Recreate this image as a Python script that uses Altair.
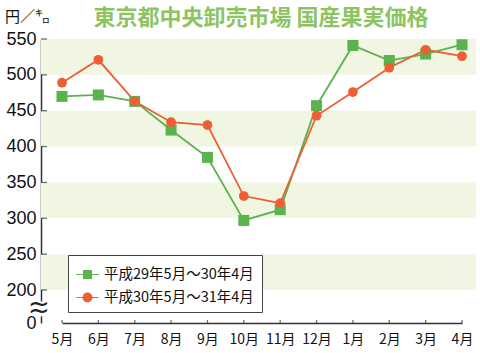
import altair as alt
import pandas as pd

months = ["5月", "6月", "7月", "8月", "9月", "10月", "11月", "12月", "1月", "2月", "3月", "4月"]
series_names = ["平成29年5月～30年4月", "平成30年5月～31年4月"]
h29 = [470, 472, 463, 423, 385, 297, 312, 457, 541, 520, 529, 542]
h30 = [489, 521, 463, 434, 430, 331, 321, 443, 476, 510, 535, 526]
band_lo = [500, 400, 300, 200]
band_hi = [550, 450, 350, 250]
y_ticks = [0, 200, 250, 300, 350, 400, 450, 500, 550]
colors = ["#5ab34c", "#ef5d35"]
title_text = "東京都中央卸売市場 国産果実価格"
unit_text = "円／㌔"

W, H = 435, 284
JP = "Noto Sans CJK JP"

rows = []
for s, vals in zip(series_names, [h29, h30]):
    for m, v in zip(months, vals):
        rows.append({"month": m, "value": v, "series": s})
df = pd.DataFrame(rows)
bands = pd.DataFrame({"lo": band_lo, "hi": band_hi})
ticks_df = pd.DataFrame({"v": y_ticks[1:]})
mdf = pd.DataFrame({"month": months})

yscale = alt.Scale(domain=[0, 200, 550], range=[H, H - 33, 0], zero=False, nice=False)
xscale = alt.Scale(type="point", domain=months, range=[21, 421], padding=0)
cscale = alt.Scale(domain=series_names, range=colors)

sq_path = "M-1,-0.05H1V0.05H-1Z M-0.4,-0.4H0.4V0.4H-0.4Z"
ci_path = "M-1,-0.05H1V0.05H-1Z M0.44,0A0.44,0.44 0 1,1 -0.44,0A0.44,0.44 0 1,1 0.44,0Z"

yaxis = alt.Axis(
    values=y_ticks, title=None, ticks=False, grid=False, labelFontSize=18,
    labelFont="Liberation Sans", labelColor="#111", labelPadding=5,
    labelOverlap=False, labelBound=False, tickCount=20,
    domainColor="#333", domainWidth=1.5)
xaxis = alt.Axis(
    title=None, ticks=False, grid=False, labelAngle=0, labelFontSize=14,
    labelFont=JP, labelColor="#111", labelPadding=9,
    domainColor="#333", domainWidth=1.5)

leg = alt.Legend(
    title=None, orient="none", legendX=27, legendY=216,
    fillColor="white", strokeColor="#444", padding=8,
    labelFont=JP, labelFontSize=14.5, labelColor="#111", labelLimit=300,
    symbolSize=500, symbolStrokeWidth=0, symbolOpacity=1, rowPadding=5, labelOffset=5,
)

band_layer = alt.Chart(bands).mark_rect(color="#f1f6e3").encode(
    y=alt.Y("lo:Q", scale=yscale, axis=yaxis),
    y2="hi:Q",
)

ytick_layer = alt.Chart(ticks_df).mark_tick(
    color="#333", size=6, thickness=1.3
).encode(y=alt.Y("v:Q", scale=yscale, axis=yaxis), x=alt.value(3))

xtick_layer = alt.Chart(mdf).mark_tick(
    color="#333", size=6, thickness=1.3
).encode(
    x=alt.X("month:N", scale=xscale, sort=months, axis=xaxis),
    y=alt.value(H - 3),
)

base = alt.Chart(df).encode(
    x=alt.X("month:N", scale=xscale, sort=months, axis=xaxis),
    y=alt.Y("value:Q", scale=yscale, axis=yaxis),
    color=alt.Color("series:N", scale=cscale, legend=leg),
)
lines = base.mark_line(strokeWidth=1.8).encode(detail="series:N")
points = base.mark_point(filled=True, opacity=1).encode(
    shape=alt.condition(alt.datum.series == series_names[0], alt.value("square"), alt.value("circle")),
    size=alt.condition(alt.datum.series == series_names[0], alt.value(121), alt.value(95)),
)
legend_layer = base.mark_point(filled=True, opacity=0).encode(
    shape=alt.Shape("series:N", scale=alt.Scale(domain=series_names, range=[sq_path, ci_path]),
                    legend=leg),
)

brk_df = pd.DataFrame({"a": [40], "b": [130]})
brk_white = alt.Chart(brk_df).mark_rect(color="white").encode(
    y=alt.Y("a:Q", scale=yscale, axis=yaxis), y2="b:Q", x=alt.value(-3), x2=alt.value(3)
)
sq_df = pd.DataFrame({"v": [114, 70]})
squiggle = alt.Chart(sq_df).mark_text(text="~", fontSize=26, font="DejaVu Sans", color="#222").encode(
    y=alt.Y("v:Q", scale=yscale, axis=yaxis), x=alt.value(-2)
)

unit = alt.Chart(mdf.head(1)).mark_text(
    text=unit_text, font=JP, fontSize=15, align="left", baseline="middle", color="#111"
).encode(x=alt.value(-36), y=alt.value(-22))

title = alt.Chart(mdf.head(1)).mark_text(
    text=title_text, font=JP, fontSize=22, fontWeight="bold", align="center",
    baseline="middle", color="#8cc462"
).encode(x=alt.value(220), y=alt.value(-21))

chart = alt.layer(
    band_layer, ytick_layer, xtick_layer, lines, points, legend_layer, brk_white, squiggle, unit, title
).properties(
    width=W, height=H,
    autosize=alt.AutoSizeParams(type="none"),
    padding={"left": 41, "top": 39, "right": 4, "bottom": 30},
).configure_view(stroke=None)

chart.save("out.html", embed_options={"renderer": "svg", "actions": False})
